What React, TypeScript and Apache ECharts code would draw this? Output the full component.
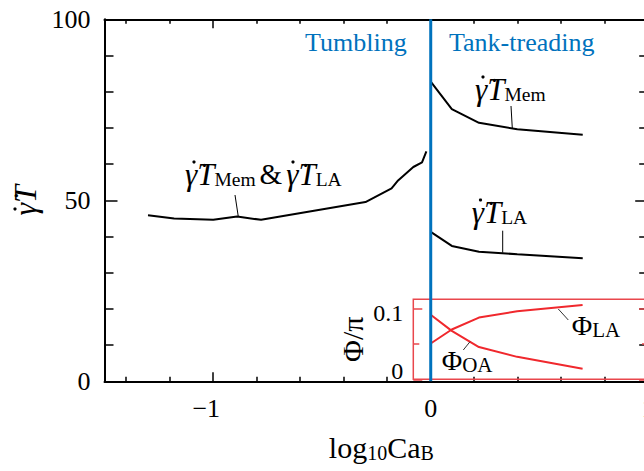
import React, { useEffect, useRef } from 'react';
import * as echarts from 'echarts';

const FONT = "'Liberation Serif', 'Times New Roman', serif";

// ---- data ----
const tumblingX = [-1.30, -1.18, -1.0, -0.89, -0.78, -0.30, -0.18, -0.15, -0.08, -0.04, -0.02];
const tumblingY = [45.9, 45.0, 44.6, 45.5, 44.6, 49.5, 53.3, 55.5, 59.2, 60.5, 63.5];
const treadX = [0, 0.097, 0.222, 0.398, 0.699];
const treadMem = [82.8, 75.2, 71.4, 69.6, 68.1];
const treadLA = [41.3, 37.4, 35.8, 35.1, 34.0];
const phiLA = [0.051, 0.071, 0.088, 0.097, 0.106];
const phiOA = [0.092, 0.069, 0.046, 0.032, 0.015];
const phaseBoundary = 0;

// ---- ticks ----
const xMajorTicks = [-1, 0, 1];
const xMinorTicks = [-1.4, -1.2, -0.8, -0.6, -0.4, -0.2, 0.2, 0.4, 0.6, 0.8];
const yMajorTicks = [0, 50, 100];
const yMinorTicks = [10, 20, 30, 40, 60, 70, 80, 90];
const insetMajorTicks = [0, 0.1];
const insetMinorTicks = [0.05];

const BLACK = '#000';
const BLUE = '#0072bd';
const RED = '#f0282d';
const BOX_RED = '#e9474d';

const zip = (xs: number[], ys: number[]) => xs.map((x, i) => [x, ys[i]]);

function tickAxis(base: any, ticks: number[], len: number, color: string, showLine: boolean, width = 1.5) {
  return {
    type: 'value',
    ...base,
    splitLine: { show: false },
    axisLine: { show: showLine, onZero: false, lineStyle: { color, width: 2 } },
    axisTick: { show: true, inside: true, length: len, customValues: ticks, lineStyle: { color, width } },
    axisLabel: { show: false },
  };
}

const gRich: any = {
  g: { fontFamily: FONT, fontSize: 31, fontStyle: 'italic', lineHeight: 36, color: BLACK },
  s: { fontFamily: FONT, fontSize: 19.5, lineHeight: 36, padding: [10, 0, 0, 0], color: BLACK },
  r: { fontFamily: FONT, fontSize: 29, lineHeight: 36, color: BLACK, padding: [0, 4, 0, 4] },
};
const pRich: any = {
  g: { fontFamily: FONT, fontSize: 28, lineHeight: 34, color: BLACK },
  s: { fontFamily: FONT, fontSize: 21, lineHeight: 34, padding: [10, 0, 0, 0], color: BLACK },
};

function label(x: number, y: number, text: string, rich: any) {
  return { type: 'text', x, y, z: 100, style: { text, rich, fill: BLACK, align: 'left', verticalAlign: 'middle' } };
}
function dot(cx: number, cy: number) {
  return { type: 'circle', z: 100, shape: { cx, cy, r: 1.6 }, style: { fill: BLACK } };
}
function leader(x1: number, y1: number, x2: number, y2: number, color = BLACK) {
  return { type: 'line', z: 100, shape: { x1, y1, x2, y2 }, style: { stroke: color, lineWidth: 1 } };
}

export default function App() {
  const ref = useRef<HTMLDivElement>(null);
  useEffect(() => {
    if (!ref.current) return;
    const chart = echarts.init(ref.current, null, { renderer: 'svg' });
    const mainX = { gridIndex: 0, min: -1.5, max: 1 };
    const mainY = { gridIndex: 0, min: 0, max: 100 };
    const insetY = { gridIndex: 1, min: 0, max: 0.114 };
    const option: any = {
      animation: false,
      backgroundColor: '#fff',
      grid: [
        { left: 104.5, top: 19.3, width: 543.7, height: 362, show: false, containLabel: false, outerBoundsMode: 'none' },
        { left: 413.3, top: 299.3, width: 234.7, height: 80, show: true, borderColor: BOX_RED, borderWidth: 1.5, backgroundColor: 'transparent', z: 3, containLabel: false, outerBoundsMode: 'none' },
      ],
      xAxis: [
        {
          ...tickAxis({ ...mainX, position: 'bottom' }, xMajorTicks, 9, BLACK, true),
          axisLabel: {
            show: true, customValues: xMajorTicks, margin: 14, color: BLACK, fontFamily: FONT, fontSize: 26,
            formatter: (v: number) => (v < 0 ? '{n|\u2212' + Math.abs(v) + '}' : '{p|' + v + '}'),
            rich: {
              n: { fontFamily: FONT, fontSize: 26, color: BLACK, padding: [0, 14, 0, 0] },
              p: { fontFamily: FONT, fontSize: 26, color: BLACK },
            },
          },
          name: '{a|log}{s|10}{a|Ca}{s|B}',
          nameLocation: 'middle',
          nameGap: 49,
          nameTextStyle: {
            padding: [0, 0, 0, 10],
            rich: {
              a: { fontFamily: FONT, fontSize: 30, lineHeight: 34, color: BLACK },
              s: { fontFamily: FONT, fontSize: 20, lineHeight: 34, padding: [12, 0, 0, 0], color: BLACK },
            },
          },
        },
        tickAxis({ ...mainX, position: 'bottom' }, xMinorTicks, 4.5, BLACK, false),
        tickAxis({ ...mainX, position: 'top' }, xMajorTicks, 9, BLACK, true),
        tickAxis({ ...mainX, position: 'top' }, xMinorTicks, 4.5, BLACK, false),
        { type: 'value', gridIndex: 1, min: -0.08, max: 1, show: false },
      ],
      yAxis: [
        {
          ...tickAxis({ ...mainY, position: 'left' }, yMajorTicks, 13, BLACK, true),
          axisLabel: { show: true, customValues: yMajorTicks, margin: 14, color: BLACK, fontFamily: FONT, fontSize: 26 },
          name: '{g|\u03B3\u0307T}',
          nameLocation: 'middle',
          nameRotate: 90,
          nameGap: 57,
          nameTextStyle: { rich: { g: { fontFamily: FONT, fontSize: 32, fontStyle: 'italic', color: BLACK } } },
        },
        tickAxis({ ...mainY, position: 'left' }, yMinorTicks, 9, BLACK, false),
        tickAxis({ ...mainY, position: 'right' }, yMajorTicks, 13, BLACK, true),
        tickAxis({ ...mainY, position: 'right' }, yMinorTicks, 9, BLACK, false),
        {
          ...tickAxis({ ...insetY, position: 'left' }, insetMajorTicks, 9, BOX_RED, false),
          axisLabel: {
            show: true, customValues: insetMajorTicks, margin: 10, color: BLACK,
            formatter: (v: number) => (v === 0 ? '{z|0}' : '{o|0.1}'),
            rich: {
              z: { fontFamily: FONT, fontSize: 24, color: BLACK, padding: [0, 0, 16, 0] },
              o: { fontFamily: FONT, fontSize: 24, color: BLACK, padding: [7, 0, 0, 0] },
            },
          },
          name: '{a|\u03A6/\u03C0}',
          nameLocation: 'middle',
          nameRotate: 90,
          nameGap: 46,
          nameTextStyle: { rich: { a: { fontFamily: FONT, fontSize: 30, color: BLACK } } },
        },
        tickAxis({ ...insetY, position: 'left' }, insetMinorTicks, 6, BOX_RED, false),
        tickAxis({ ...insetY, position: 'right' }, insetMajorTicks, 9, BOX_RED, false),
        tickAxis({ ...insetY, position: 'right' }, insetMinorTicks, 6, BOX_RED, false),
      ],
      series: [
        { type: 'line', xAxisIndex: 0, yAxisIndex: 0, data: zip(tumblingX, tumblingY), symbol: 'none', lineStyle: { color: BLACK, width: 2 }, z: 5 },
        { type: 'line', xAxisIndex: 0, yAxisIndex: 0, data: zip(treadX, treadMem), symbol: 'none', lineStyle: { color: BLACK, width: 2 }, z: 5 },
        { type: 'line', xAxisIndex: 0, yAxisIndex: 0, data: zip(treadX, treadLA), symbol: 'none', lineStyle: { color: BLACK, width: 2 }, z: 5 },
        { type: 'line', xAxisIndex: 4, yAxisIndex: 4, data: zip(treadX, phiLA), symbol: 'none', lineStyle: { color: RED, width: 2 }, z: 5 },
        { type: 'line', xAxisIndex: 4, yAxisIndex: 4, data: zip(treadX, phiOA), symbol: 'none', lineStyle: { color: RED, width: 2 }, z: 5 },
        { type: 'line', xAxisIndex: 0, yAxisIndex: 0, data: [[phaseBoundary, 0], [phaseBoundary, 100]], symbol: 'none', lineStyle: { color: BLUE, width: 3 }, z: 10 },
      ],
      graphic: [
        { type: 'text', x: 355.8, y: 42, z: 100, style: { text: 'Tumbling', fill: BLUE, fontFamily: FONT, fontSize: 26, align: 'center', verticalAlign: 'middle' } },
        { type: 'text', x: 521.7, y: 42, z: 100, style: { text: 'Tank-treading', fill: BLUE, fontFamily: FONT, fontSize: 26, align: 'center', verticalAlign: 'middle' } },
        label(185, 174, '{g|\u03B3\u0307T}{s|Mem}{r|&}{g|\u03B3\u0307T}{s|LA}', gRich),
        label(475, 89, '{g|\u03B3\u0307T}{s|Mem}', gRich),
        label(471.7, 212, '{g|\u03B3\u0307T}{s|LA}', gRich),
        label(571.7, 325, '{g|\u03A6}{s|LA}', pRich),
        label(441.7, 360, '{g|\u03A6}{s|OA}', pRich),
        dot(194, 162), dot(293, 162), dot(483, 77), dot(480.5, 200), dot(15, 209),
        leader(235, 195, 238.3, 216.7),
        leader(511, 106, 512.3, 128.3),
        leader(502.7, 230.7, 502.7, 252.7),
        leader(558.3, 309, 568.3, 320, '#333'),
        leader(470, 341.7, 463.3, 350, '#333'),
      ],
    };
    chart.setOption(option);
    return () => chart.dispose();
  }, []);
  return <div ref={ref} style={{ position: 'fixed', left: 0, top: 0, width: 644, height: 471, background: '#fff' }} />;
}
